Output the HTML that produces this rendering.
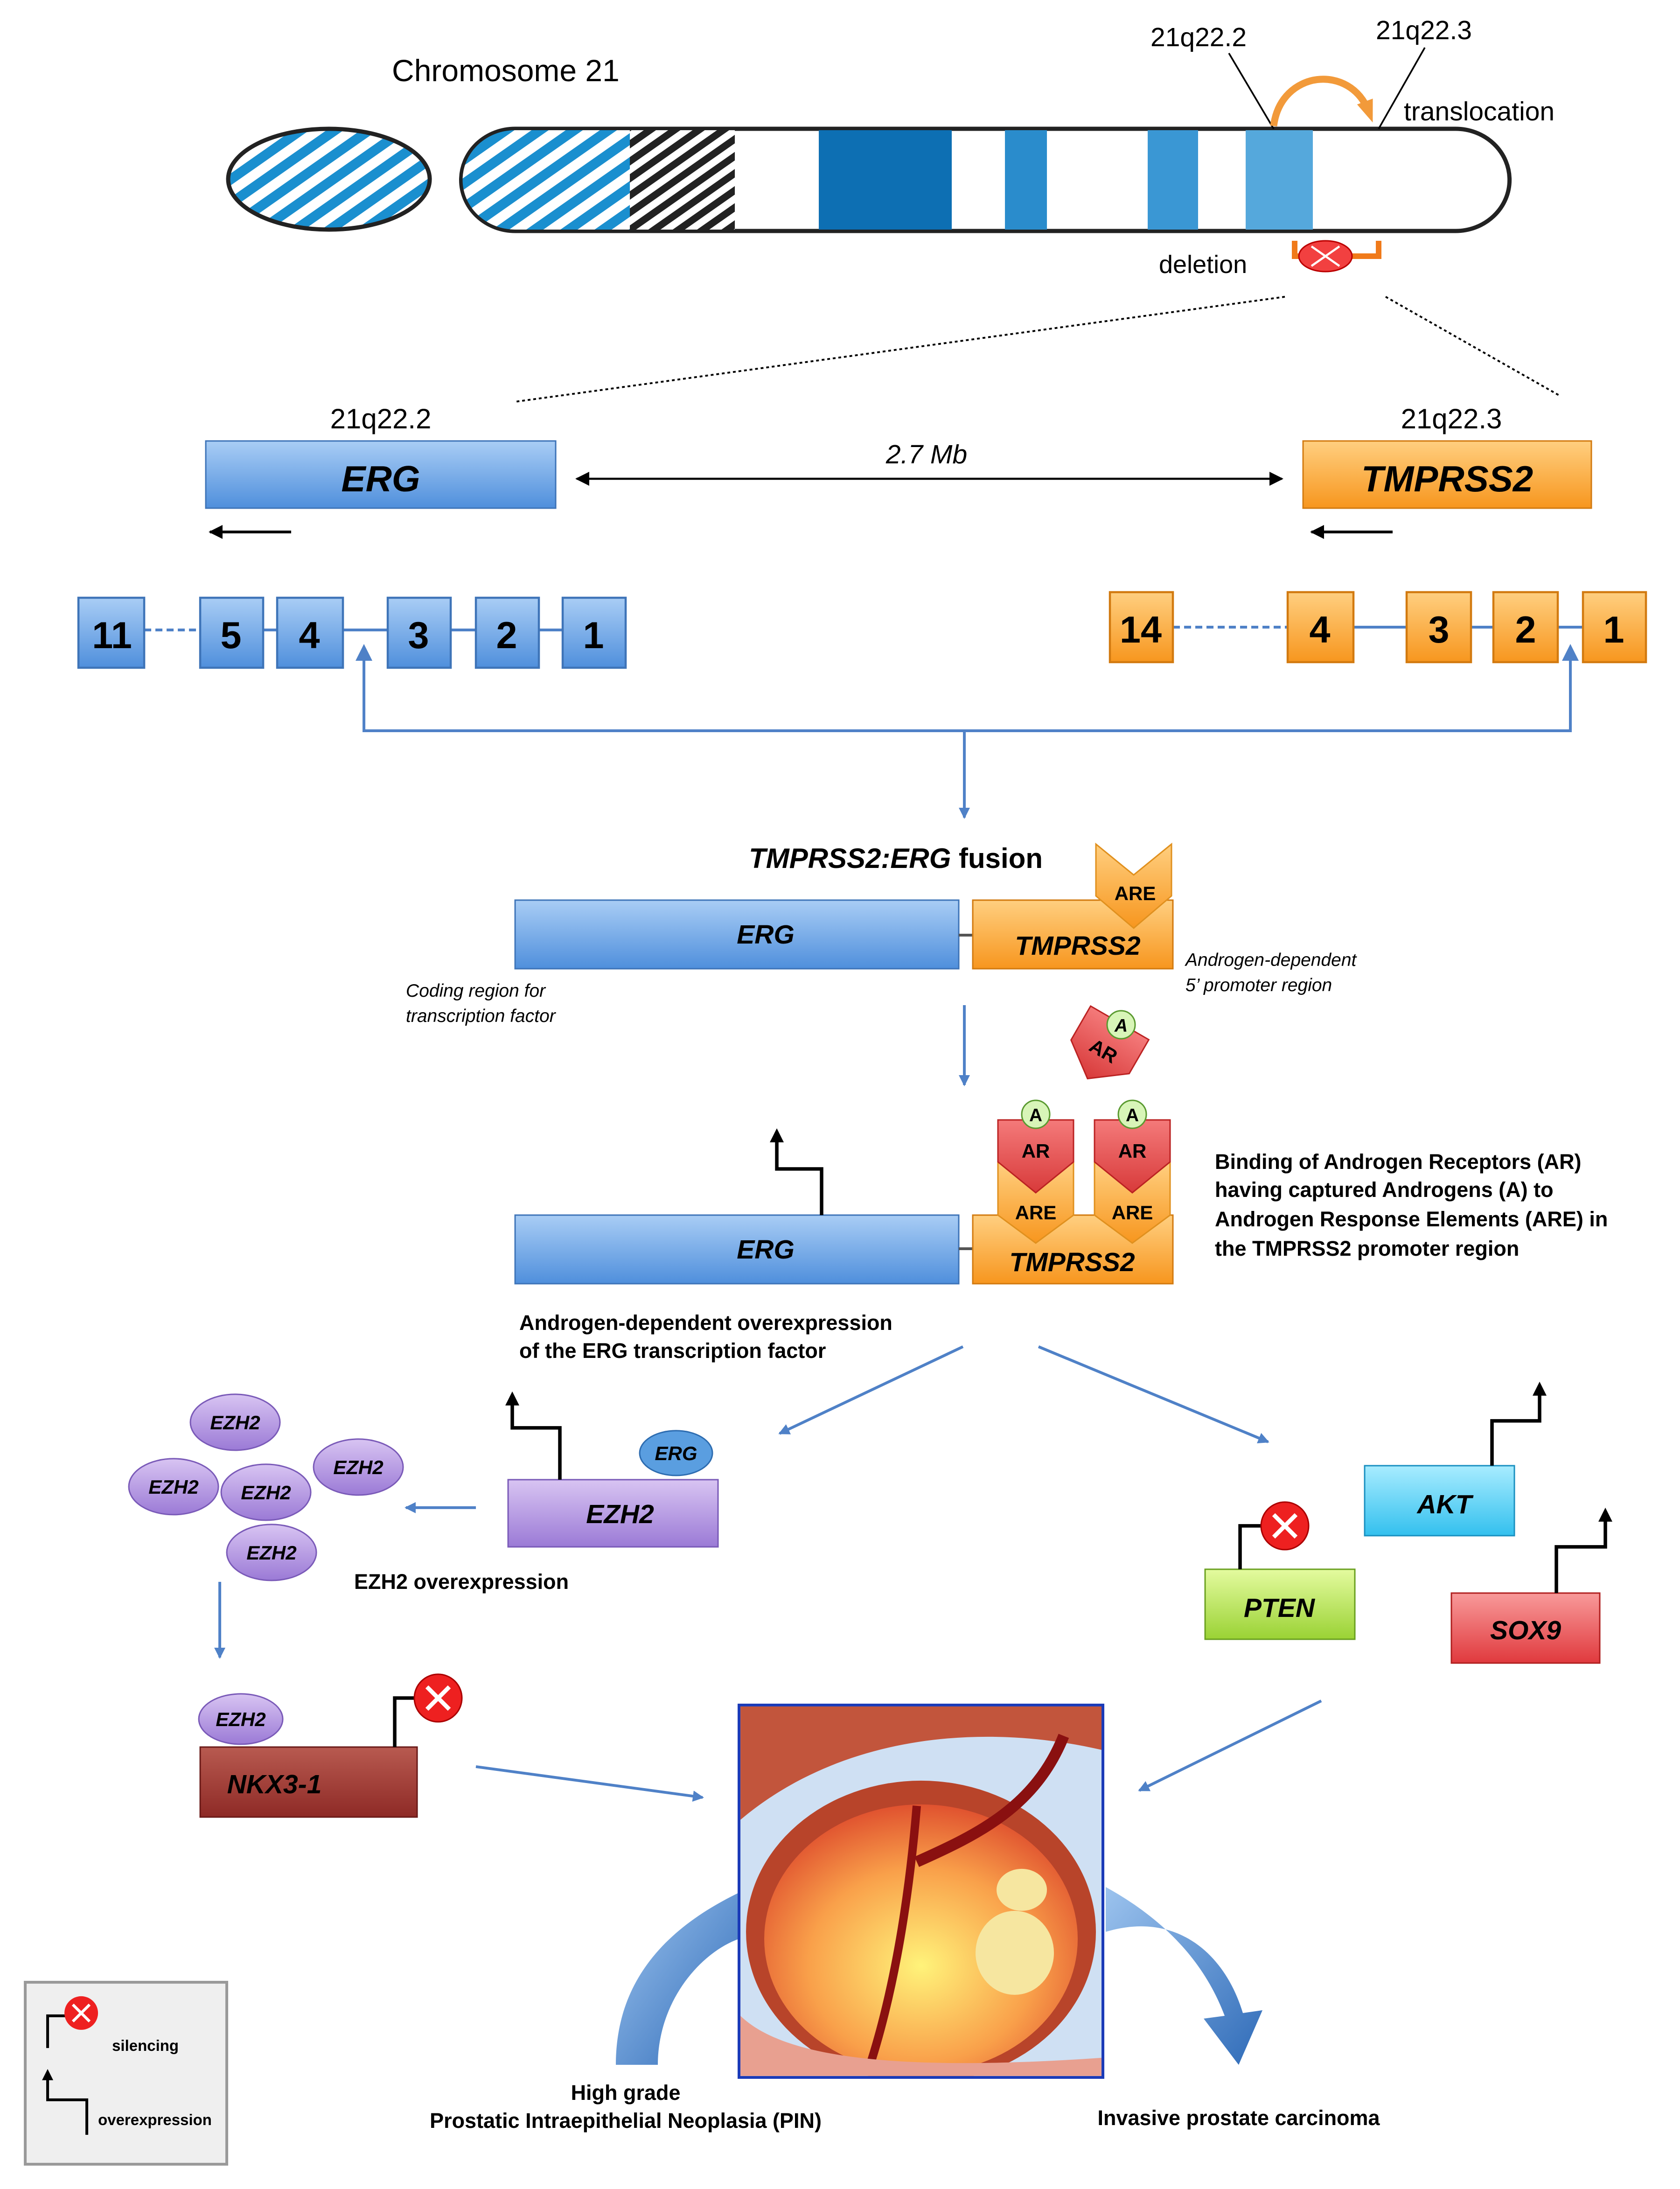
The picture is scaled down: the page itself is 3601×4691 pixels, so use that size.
<!DOCTYPE html>
<html><head><meta charset="utf-8"><style>html,body{margin:0;padding:0;background:#fff}svg{display:block}text{font-family:"Liberation Sans","DejaVu Sans",sans-serif}</style></head>
<body>
<svg xmlns="http://www.w3.org/2000/svg" width="3601" height="4691" viewBox="0 0 1200.3 1563.7">
<defs>
<pattern id="hb" width="14" height="14" patternUnits="userSpaceOnUse" patternTransform="rotate(-35)"><rect width="14" height="14" fill="#fff"/><rect width="14" height="7" fill="#1a8fcf"/></pattern>
<pattern id="hk" width="10" height="10" patternUnits="userSpaceOnUse" patternTransform="rotate(-35)"><rect width="10" height="10" fill="#fff"/><rect width="10" height="5" fill="#222"/></pattern>
<linearGradient id="gb" x1="0" y1="0" x2="0" y2="1"><stop offset="0" stop-color="#a9cdf5"/><stop offset="1" stop-color="#4f8fdc"/></linearGradient>
<linearGradient id="go" x1="0" y1="0" x2="0" y2="1"><stop offset="0" stop-color="#ffcf80"/><stop offset="1" stop-color="#f7961e"/></linearGradient>
<linearGradient id="gp" x1="0" y1="0" x2="0" y2="1"><stop offset="0" stop-color="#d8c4f2"/><stop offset="1" stop-color="#9b7ad6"/></linearGradient>
<linearGradient id="gc" x1="0" y1="0" x2="0" y2="1"><stop offset="0" stop-color="#a8ecff"/><stop offset="1" stop-color="#33c0ee"/></linearGradient>
<linearGradient id="gg" x1="0" y1="0" x2="0" y2="1"><stop offset="0" stop-color="#e4fb9f"/><stop offset="1" stop-color="#9ad234"/></linearGradient>
<linearGradient id="gr" x1="0" y1="0" x2="0" y2="1"><stop offset="0" stop-color="#f89a9a"/><stop offset="1" stop-color="#e0393d"/></linearGradient>
<linearGradient id="gd" x1="0" y1="0" x2="0" y2="1"><stop offset="0" stop-color="#b85a50"/><stop offset="1" stop-color="#8e2a26"/></linearGradient>
<linearGradient id="gar" x1="0" y1="0" x2="0" y2="1"><stop offset="0" stop-color="#f47a7a"/><stop offset="1" stop-color="#d83a3a"/></linearGradient>
<linearGradient id="gbl" x1="0" y1="0" x2="1" y2="1"><stop offset="0" stop-color="#9cc3ee"/><stop offset="1" stop-color="#2f6bb8"/></linearGradient>
<radialGradient id="gpr" cx="0.5" cy="0.6" r="0.6"><stop offset="0" stop-color="#fff37a"/><stop offset="0.6" stop-color="#f9a04a"/><stop offset="1" stop-color="#e0522f"/></radialGradient>
<marker id="ab" markerWidth="8" markerHeight="8" refX="7" refY="4" orient="auto" markerUnits="userSpaceOnUse"><path d="M0,0 L8,4 L0,8 z" fill="#4f81c7"/></marker>
<marker id="ak" markerWidth="10" markerHeight="10" refX="9" refY="5" orient="auto" markerUnits="userSpaceOnUse"><path d="M0,0 L10,5 L0,10 z" fill="#000"/></marker>
<marker id="ak2" markerWidth="10" markerHeight="10" refX="1" refY="5" orient="auto" markerUnits="userSpaceOnUse"><path d="M10,0 L0,5 L10,10 z" fill="#000"/></marker>
<marker id="ao" markerWidth="16" markerHeight="16" refX="8" refY="8" orient="auto" markerUnits="userSpaceOnUse"><path d="M0,2 L16,8 L0,14 z" fill="#f29a3a"/></marker>
</defs>
<rect width="1200.3" height="1563.7" fill="#fff"/>

<text x="280" y="58" font-size="22">Chromosome 21</text>
<ellipse cx="235" cy="128" rx="72" ry="36" fill="url(#hb)" stroke="#222" stroke-width="3"/>
<path d="M368,92 H1040 A38,36 0 0 1 1040,165 H368 A38,36 0 0 1 368,92 z" fill="#fff" stroke="#222" stroke-width="3"/>
<clipPath id="cc"><path d="M368,93 H1040 A37,35 0 0 1 1040,164 H368 A37,35 0 0 1 368,93 z"/></clipPath>
<g clip-path="url(#cc)">
<rect x="328" y="90" width="124" height="80" fill="url(#hb)"/>
<rect x="450" y="90" width="75" height="80" fill="url(#hk)"/>
<rect x="585" y="90" width="95" height="80" fill="#0d6fb3"/>
<rect x="718" y="90" width="30" height="80" fill="#2a8ccc"/>
<rect x="820" y="90" width="36" height="80" fill="#3a97d4"/>
<rect x="890" y="90" width="48" height="80" fill="#55a8dc"/>
</g>
<text x="822" y="33" font-size="19">21q22.2</text>
<text x="983" y="28" font-size="19">21q22.3</text>
<text x="1003" y="86" font-size="19">translocation</text>
<line x1="878" y1="38" x2="910" y2="92" stroke="#000" stroke-width="1.2"/>
<line x1="1018" y1="34" x2="985" y2="92" stroke="#000" stroke-width="1.2"/>
<path d="M910,90 C915,50 965,45 978,80" fill="none" stroke="#f29a3a" stroke-width="5" marker-end="url(#ao)"/>
<text x="828" y="195" font-size="18">deletion</text>
<path d="M925,172 V183 H985 V172" fill="none" stroke="#f07a1a" stroke-width="4"/>
<ellipse cx="947" cy="183" rx="19" ry="11" fill="#f24040" stroke="#b00" stroke-width="1"/>
<path d="M937,176 L957,190 M957,176 L937,190" stroke="#fff" stroke-width="1.5"/>
<line x1="918" y1="212" x2="368" y2="287" stroke="#000" stroke-width="1.3" stroke-dasharray="2,2"/>
<line x1="990" y1="212" x2="1115" y2="283" stroke="#000" stroke-width="1.3" stroke-dasharray="2,2"/>

<text x="272" y="306" font-size="20" text-anchor="middle">21q22.2</text>
<rect x="147" y="315" width="250" height="48" fill="url(#gb)" stroke="#3e74b8"/>
<text x="272" y="351" font-size="26" font-weight="bold" font-style="italic" text-anchor="middle">ERG</text>
<text x="1037" y="306" font-size="20" text-anchor="middle">21q22.3</text>
<rect x="931" y="315" width="206" height="48" fill="url(#go)" stroke="#d27a10"/>
<text x="1034" y="351" font-size="26" font-weight="bold" font-style="italic" text-anchor="middle">TMPRSS2</text>
<line x1="412" y1="342" x2="916" y2="342" stroke="#000" stroke-width="1.5" marker-end="url(#ak)" marker-start="url(#ak2)"/>
<text x="662" y="331" font-size="19" font-style="italic" text-anchor="middle">2.7 Mb</text>
<line x1="208" y1="380" x2="150" y2="380" stroke="#000" stroke-width="2" marker-end="url(#ak)"/>
<line x1="995" y1="380" x2="937" y2="380" stroke="#000" stroke-width="2" marker-end="url(#ak)"/>

<g stroke="#4f81c7" stroke-width="2" fill="none">
<line x1="103" y1="450" x2="143" y2="450" stroke-dasharray="5,3"/>
<line x1="188" y1="450" x2="198" y2="450"/><line x1="245" y1="450" x2="277" y2="450"/><line x1="322" y1="450" x2="340" y2="450"/><line x1="385" y1="450" x2="402" y2="450"/>
<line x1="838" y1="448" x2="920" y2="448" stroke-dasharray="5,3"/>
<line x1="967" y1="448" x2="1005" y2="448"/><line x1="1051" y1="448" x2="1067" y2="448"/><line x1="1113" y1="448" x2="1131" y2="448"/>
</g>
<g fill="url(#gb)" stroke="#3e74b8" stroke-width="1.5">
<rect x="56" y="427" width="47" height="50"/><rect x="143" y="427" width="45" height="50"/><rect x="198" y="427" width="47" height="50"/><rect x="277" y="427" width="45" height="50"/><rect x="340" y="427" width="45" height="50"/><rect x="402" y="427" width="45" height="50"/>
</g>
<g fill="url(#go)" stroke="#d27a10" stroke-width="1.5">
<rect x="793" y="423" width="45" height="50"/><rect x="920" y="423" width="47" height="50"/><rect x="1005" y="423" width="46" height="50"/><rect x="1067" y="423" width="46" height="50"/><rect x="1131" y="423" width="45" height="50"/>
</g>
<g font-size="27" font-weight="bold" text-anchor="middle">
<text x="80" y="463">11</text><text x="165" y="463">5</text><text x="221" y="463">4</text><text x="299" y="463">3</text><text x="362" y="463">2</text><text x="424" y="463">1</text>
<text x="815" y="459">14</text><text x="943" y="459">4</text><text x="1028" y="459">3</text><text x="1090" y="459">2</text><text x="1153" y="459">1</text>
</g>
<path d="M260,470 V522 H1122 V470" fill="none" stroke="#4f81c7" stroke-width="2"/>
<path d="M260,460 l-6,12 h12 z M1122,460 l-6,12 h12 z" fill="#4f81c7"/>
<line x1="689" y1="522" x2="689" y2="584" stroke="#4f81c7" stroke-width="2" marker-end="url(#ab)"/>

<text x="640" y="620" font-size="20" font-weight="bold" text-anchor="middle"><tspan font-style="italic">TMPRSS2:ERG</tspan> fusion</text>
<rect x="368" y="643" width="317" height="49" fill="url(#gb)" stroke="#3e74b8"/>
<text x="547" y="674" font-size="19" font-weight="bold" font-style="italic" text-anchor="middle">ERG</text>
<line x1="685" y1="668" x2="695" y2="668" stroke="#555" stroke-width="2"/>
<rect x="695" y="643" width="143" height="49" fill="url(#go)" stroke="#d27a10"/>
<text x="770" y="682" font-size="19" font-weight="bold" font-style="italic" text-anchor="middle">TMPRSS2</text>
<path d="M783,603 L810,625 L837,603 V640 L810,663 L783,640 z" fill="url(#go)" stroke="#e0901e"/>
<text x="811" y="643" font-size="14" font-weight="bold" text-anchor="middle">ARE</text>
<text x="290" y="712" font-size="13" font-style="italic">Coding region for</text>
<text x="290" y="730" font-size="13" font-style="italic">transcription factor</text>
<text x="847" y="690" font-size="13" font-style="italic">Androgen-dependent</text>
<text x="847" y="708" font-size="13" font-style="italic">5’ promoter region</text>
<line x1="689" y1="718" x2="689" y2="775" stroke="#4f81c7" stroke-width="2" marker-end="url(#ab)"/>
<g transform="translate(790,748) rotate(30)"><path d="M-24,-20 H24 V8 L0,26 L-24,8 z" fill="url(#gar)" stroke="#b22"/><text x="0" y="8" font-size="14" font-weight="bold" text-anchor="middle">AR</text></g>
<circle cx="801" cy="732" r="10" fill="#d8f5b8" stroke="#5a9a30"/><text x="801" y="737" font-size="13" font-weight="bold" text-anchor="middle" font-style="italic">A</text>

<rect x="368" y="868" width="317" height="49" fill="url(#gb)" stroke="#3e74b8"/>
<text x="547" y="899" font-size="19" font-weight="bold" font-style="italic" text-anchor="middle">ERG</text>
<line x1="685" y1="892" x2="695" y2="892" stroke="#555" stroke-width="2"/>
<rect x="695" y="868" width="143" height="49" fill="url(#go)" stroke="#d27a10"/>
<text x="766" y="908" font-size="19" font-weight="bold" font-style="italic" text-anchor="middle">TMPRSS2</text>
<g>
<path d="M713,830 L740,850 L767,830 V868 L740,888 L713,868 z" fill="url(#go)" stroke="#e0901e"/>
<path d="M782,830 L809,850 L836,830 V868 L809,888 L782,868 z" fill="url(#go)" stroke="#e0901e"/>
<path d="M713,800 H767 V830 L740,852 L713,830 z" fill="url(#gar)" stroke="#b22"/>
<path d="M782,800 H836 V830 L809,852 L782,830 z" fill="url(#gar)" stroke="#b22"/>
<text x="740" y="827" font-size="14" font-weight="bold" text-anchor="middle">AR</text>
<text x="809" y="827" font-size="14" font-weight="bold" text-anchor="middle">AR</text>
<text x="740" y="871" font-size="14" font-weight="bold" text-anchor="middle">ARE</text>
<text x="809" y="871" font-size="14" font-weight="bold" text-anchor="middle">ARE</text>
<circle cx="740" cy="796" r="10" fill="#d8f5b8" stroke="#5a9a30"/><text x="740" y="801" font-size="13" font-weight="bold" text-anchor="middle">A</text>
<circle cx="809" cy="796" r="10" fill="#d8f5b8" stroke="#5a9a30"/><text x="809" y="801" font-size="13" font-weight="bold" text-anchor="middle">A</text>
</g>
<path d="M587,868 V835 H555 V812" fill="none" stroke="#000" stroke-width="2.5"/><path d="M555,806 l-5,10 h10 z" fill="#000"/>
<g font-size="15" font-weight="bold"><text x="868" y="835">Binding of Androgen Receptors (AR)</text><text x="868" y="855">having captured Androgens (A) to</text><text x="868" y="876">Androgen Response Elements (ARE) in</text><text x="868" y="897">the TMPRSS2 promoter region</text>
<text x="371" y="950">Androgen-dependent overexpression</text><text x="371" y="970">of the ERG transcription factor</text></g>
<line x1="688" y1="962" x2="557" y2="1024" stroke="#4f81c7" stroke-width="2" marker-end="url(#ab)"/>
<line x1="742" y1="962" x2="906" y2="1030" stroke="#4f81c7" stroke-width="2" marker-end="url(#ab)"/>

<rect x="363" y="1057" width="150" height="48" fill="url(#gp)" stroke="#7a5ab8"/>
<text x="443" y="1088" font-size="19" font-weight="bold" font-style="italic" text-anchor="middle">EZH2</text>
<ellipse cx="483" cy="1038" rx="26" ry="16" fill="#5a9ee0" stroke="#2d6cb0"/><text x="483" y="1043" font-size="14" font-weight="bold" font-style="italic" text-anchor="middle">ERG</text>
<path d="M400,1057 V1020 H366 V1000" fill="none" stroke="#000" stroke-width="2.5"/><path d="M366,994 l-5,10 h10 z" fill="#000"/>
<line x1="340" y1="1077" x2="290" y2="1077" stroke="#4f81c7" stroke-width="2" marker-end="url(#ab)"/>
<g fill="url(#gp)" stroke="#7a5ab8"><ellipse cx="168" cy="1016" rx="32" ry="20"/><ellipse cx="124" cy="1062" rx="32" ry="20"/><ellipse cx="190" cy="1066" rx="32" ry="20"/><ellipse cx="256" cy="1048" rx="32" ry="20"/><ellipse cx="194" cy="1109" rx="32" ry="20"/><ellipse cx="172" cy="1228" rx="30" ry="18"/></g>
<g font-size="14" font-weight="bold" font-style="italic" text-anchor="middle"><text x="168" y="1021">EZH2</text><text x="124" y="1067">EZH2</text><text x="190" y="1071">EZH2</text><text x="256" y="1053">EZH2</text><text x="194" y="1114">EZH2</text><text x="172" y="1233">EZH2</text></g>
<text x="253" y="1135" font-size="15" font-weight="bold">EZH2 overexpression</text>
<line x1="157" y1="1130" x2="157" y2="1184" stroke="#4f81c7" stroke-width="2" marker-end="url(#ab)"/>
<rect x="143" y="1248" width="155" height="50" fill="url(#gd)" stroke="#6a1a18"/>
<text x="196" y="1281" font-size="19" font-weight="bold" font-style="italic" text-anchor="middle">NKX3-1</text>
<path d="M282,1248 V1213 H298" fill="none" stroke="#000" stroke-width="2.5"/>
<circle cx="313" cy="1213" r="17" fill="#ee2020" stroke="#a00"/><path d="M305,1205 L321,1221 M321,1205 L305,1221" stroke="#fff" stroke-width="3"/>
<line x1="340" y1="1262" x2="502" y2="1284" stroke="#4f81c7" stroke-width="2" marker-end="url(#ab)"/>

<rect x="975" y="1047" width="107" height="50" fill="url(#gc)" stroke="#1a90c0"/><text x="1032" y="1081" font-size="19" font-weight="bold" font-style="italic" text-anchor="middle">AKT</text>
<path d="M1066,1047 V1015 H1100 V993" fill="none" stroke="#000" stroke-width="2.5"/><path d="M1100,987 l-5,10 h10 z" fill="#000"/>
<rect x="861" y="1121" width="107" height="50" fill="url(#gg)" stroke="#6aa020"/><text x="914" y="1155" font-size="19" font-weight="bold" font-style="italic" text-anchor="middle">PTEN</text>
<path d="M886,1121 V1090 H902" fill="none" stroke="#000" stroke-width="2.5"/>
<circle cx="918" cy="1090" r="17" fill="#ee2020" stroke="#a00"/><path d="M910,1082 L926,1098 M926,1082 L910,1098" stroke="#fff" stroke-width="3"/>
<rect x="1037" y="1138" width="106" height="50" fill="url(#gr)" stroke="#b02020"/><text x="1090" y="1171" font-size="19" font-weight="bold" font-style="italic" text-anchor="middle">SOX9</text>
<path d="M1112,1138 V1105 H1147 V1083" fill="none" stroke="#000" stroke-width="2.5"/><path d="M1147,1077 l-5,10 h10 z" fill="#000"/>
<line x1="944" y1="1215" x2="814" y2="1279" stroke="#4f81c7" stroke-width="2" marker-end="url(#ab)"/>

<path d="M528,1352 C470,1380 440,1420 440,1475 L470,1475 C470,1430 500,1395 528,1385 z" fill="url(#gbl)"/>
<path d="M790,1348 C830,1370 860,1400 875,1440 L860,1442 L885,1475 L902,1436 L888,1438 C875,1395 840,1365 790,1380 z" fill="url(#gbl)"/>
<rect x="528" y="1218" width="260" height="266" fill="#cfe0f3" stroke="#1a3ab8" stroke-width="2"/>
<clipPath id="pc"><rect x="529" y="1219" width="258" height="264"/></clipPath>
<g clip-path="url(#pc)">
<path d="M529,1300 C600,1240 700,1230 787,1250 V1219 H529 z" fill="#c2553c"/>
<ellipse cx="658" cy="1380" rx="125" ry="108" fill="#b8442a"/>
<ellipse cx="658" cy="1385" rx="112" ry="96" fill="url(#gpr)"/>
<path d="M655,1290 C650,1350 640,1420 620,1480" stroke="#8a1010" stroke-width="6" fill="none"/>
<path d="M655,1330 C700,1310 740,1290 760,1240" stroke="#8a1010" stroke-width="8" fill="none"/>
<ellipse cx="730" cy="1350" rx="18" ry="15" fill="#f6e6a0"/><ellipse cx="725" cy="1395" rx="28" ry="30" fill="#f6e6a0"/>
<path d="M529,1440 C560,1470 640,1480 787,1470 V1483 H529 z" fill="#e8a090"/>
</g>
<g font-size="15" font-weight="bold"><text x="447" y="1500" text-anchor="middle">High grade</text><text x="447" y="1520" text-anchor="middle">Prostatic Intraepithelial Neoplasia (PIN)</text><text x="885" y="1518" text-anchor="middle">Invasive prostate carcinoma</text></g>

<rect x="18" y="1416" width="144" height="130" fill="#efefef" stroke="#999" stroke-width="2"/>
<path d="M34,1463 V1440 H48" fill="none" stroke="#000" stroke-width="2"/>
<circle cx="58" cy="1438" r="12" fill="#ee2020"/><path d="M52,1432 L64,1444 M64,1432 L52,1444" stroke="#fff" stroke-width="2"/>
<text x="80" y="1465" font-size="11" font-weight="bold">silencing</text>
<path d="M62,1525 V1500 H34 V1485" fill="none" stroke="#000" stroke-width="2"/><path d="M34,1478 l-4,8 h8 z" fill="#000"/>
<text x="70" y="1518" font-size="11" font-weight="bold">overexpression</text>
</svg>
</body></html>
